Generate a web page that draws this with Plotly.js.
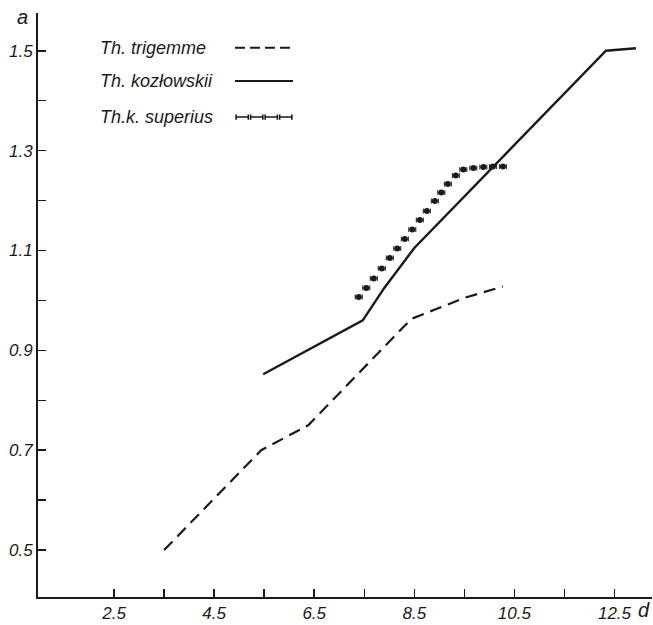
<!DOCTYPE html>
<html>
<head>
<meta charset="utf-8">
<script src="https://cdn.plot.ly/plotly-3.0.1.min.js"></script>
<style>
  html, body { margin: 0; padding: 0; background: #fff; }
  #chart { width: 653px; height: 625px; }
</style>
</head>
<body>
<div id="chart"></div>
<script>
// ---- data ----
const seriesNames = ["Th. trigemme", "Th. kozłowskii", "Th.k. superius"];

const trigX = [3.5, 5.44, 6.38, 8.44, 9.5, 10.27];
const trigY = [0.50, 0.70, 0.75, 0.963, 1.005, 1.028];

const kozX = [5.48, 7.47, 7.9, 8.5, 12.33, 12.93];
const kozY = [0.852, 0.96, 1.025, 1.105, 1.50, 1.505];

// positions of the individual "|-|" marks of Th.k. superius
const supX = [7.39, 7.54, 7.69, 7.85, 8.01, 8.16, 8.31, 8.46, 8.61, 8.75, 8.91, 9.04, 9.17, 9.33, 9.48, 9.68, 9.88, 10.07, 10.27];
const supY = [1.007, 1.025, 1.044, 1.064, 1.085, 1.104, 1.123, 1.142, 1.161, 1.179, 1.199, 1.216, 1.233, 1.250, 1.262, 1.265, 1.267, 1.268, 1.268];

const yTickVals = [0.5, 0.7, 0.9, 1.1, 1.3, 1.5];
const yTickText = ["0.5", "0.7", "0.9", "1.1", "1.3", "1.5"];
const yMinorVals = [0.6, 0.8, 1.0, 1.2, 1.4];
const xTickVals = [2.5, 4.5, 6.5, 8.5, 10.5, 12.5];
const xTickText = ["2.5", "4.5", "6.5", "8.5", "10.5", "12.5"];
const xMinorVals = [3.5, 5.5, 7.5, 9.5, 11.5];

// ---- styling ----
const INK = "#1a1a1a";
const FAM = "Liberation Sans, Arial, sans-serif";
function f(size) { return { family: FAM, size: size, color: INK, style: "italic" }; }

const traces = [
  {
    x: trigX, y: trigY, name: seriesNames[0], mode: "lines",
    line: { color: INK, width: 2.2, dash: "12px,7px" }, showlegend: false, hoverinfo: "skip"
  },
  {
    x: kozX, y: kozY, name: seriesNames[1], mode: "lines",
    line: { color: INK, width: 2.4 }, showlegend: false, hoverinfo: "skip"
  },
  {
    x: supX, y: supY, name: seriesNames[2], mode: "markers",
    marker: { size: 0, color: INK },
    error_x: { type: "constant", value: 0.07, width: 2.5, thickness: 1, color: INK },
    showlegend: false, hoverinfo: "skip"
  }
];

// legend built from annotations + shapes (text left, sample right)
const legY = [0.9406, 0.8836, 0.8219];
const annotations = seriesNames.map((n, i) => ({
  text: n, xref: "paper", yref: "paper", x: 0.0977, y: legY[i],
  xanchor: "left", yanchor: "middle", showarrow: false, font: f(18)
}));
annotations.push({
  text: "a", xref: "paper", yref: "paper", x: -0.025, y: 0.993,
  xanchor: "center", yanchor: "middle", showarrow: false, font: f(20)
});
annotations.push({
  text: "d", xref: "paper", yref: "paper", x: 0.987, y: 0.0,
  xanchor: "center", yanchor: "top", showarrow: false, font: f(20)
});

const sx0 = 0.3208, sx1 = 0.4153;
const shapes = [
  { type: "line", xref: "paper", yref: "paper", x0: sx0, x1: sx1, y0: legY[0], y1: legY[0],
    line: { color: INK, width: 2, dash: "10px,5px" } },
  { type: "line", xref: "paper", yref: "paper", x0: sx0, x1: sx1, y0: legY[1], y1: legY[1],
    line: { color: INK, width: 2 } }
];
// superius legend sample: 4 "|-|" marks
(function () {
  const n = 4, w = (sx1 - sx0) / n, cap = 0.0045;
  let p = "";
  for (let i = 0; i < n; i++) {
    const a = sx0 + i * w + w * 0.08, b = sx0 + (i + 1) * w - w * 0.08;
    p += `M${a},${legY[2] - cap} L${a},${legY[2] + cap} M${a},${legY[2]} L${b},${legY[2]} M${b},${legY[2] - cap} L${b},${legY[2] + cap} `;
  }
  shapes.push({ type: "path", xref: "paper", yref: "paper", path: p, line: { color: INK, width: 1.6 } });
})();

const layout = {
  width: 653, height: 625,
  margin: { l: 38, r: 1, t: 13, b: 28, pad: 0 },
  paper_bgcolor: "#fff", plot_bgcolor: "#fff",
  showlegend: false,
  font: f(17),
  xaxis: {
    range: [0.98, 13.25], showgrid: false, zeroline: false,
    showline: true, linecolor: INK, linewidth: 2,
    tickmode: "array", tickvals: xTickVals, ticktext: xTickText,
    ticks: "inside", ticklen: 8, tickwidth: 1.5, tickcolor: INK,
    minor: { tickmode: "array", tickvals: xMinorVals, ticks: "inside", ticklen: 8, tickwidth: 1.5, tickcolor: INK },
    tickfont: f(17), ticklabelstandoff: 0
  },
  yaxis: {
    range: [0.406, 1.5756], showgrid: false, zeroline: false,
    showline: true, linecolor: INK, linewidth: 2,
    tickmode: "array", tickvals: yTickVals, ticktext: yTickText,
    ticks: "inside", ticklen: 8, tickwidth: 1.5, tickcolor: INK,
    minor: { tickmode: "array", tickvals: yMinorVals, ticks: "inside", ticklen: 8, tickwidth: 1.5, tickcolor: INK },
    tickfont: f(17), ticklabelstandoff: 0
  },
  annotations: annotations,
  shapes: shapes
};

Plotly.newPlot("chart", traces, layout, { staticPlot: true, displayModeBar: false });
</script>
</body>
</html>
